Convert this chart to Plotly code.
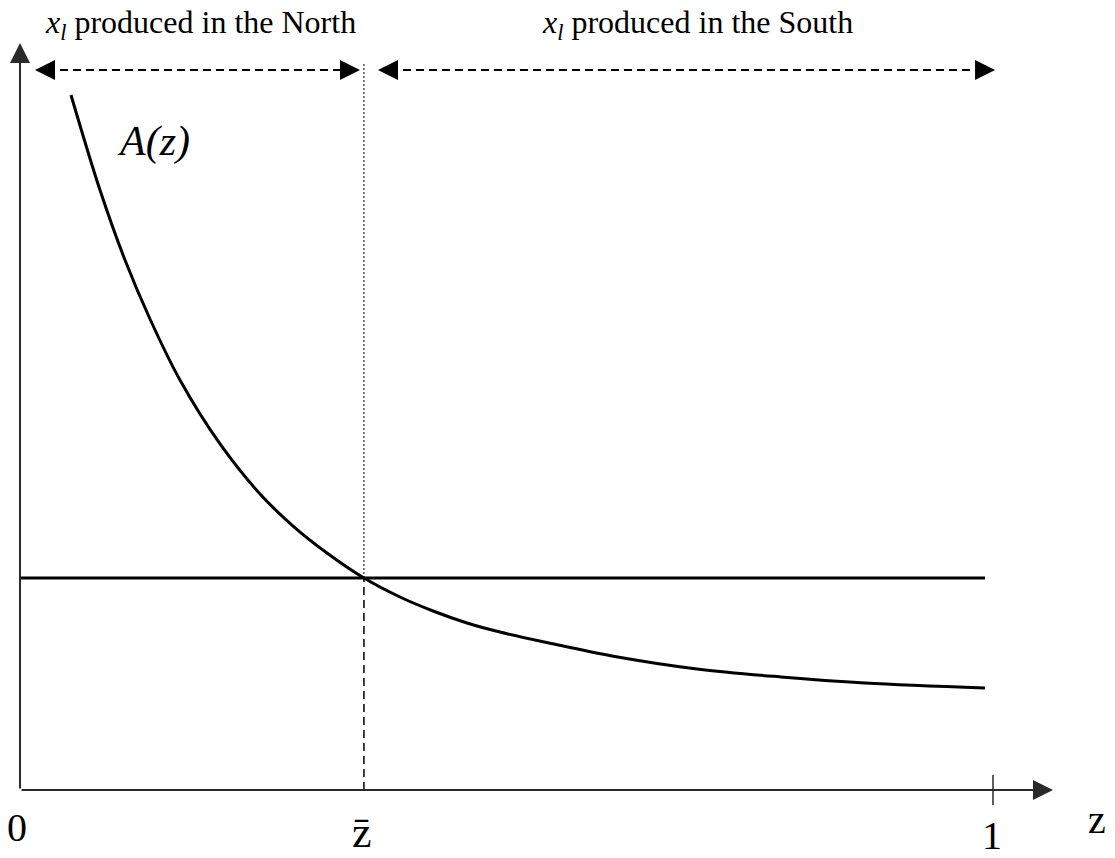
import plotly.graph_objects as go

# ---- data ----
z_curve = [0.0524, 0.0822, 0.1079, 0.1336, 0.1644, 0.2056, 0.2467, 0.2806, 0.3155, 0.3535,
           0.3905, 0.4245, 0.4594, 0.4933, 0.5437, 0.6084, 0.6958, 0.7821, 0.8684, 0.9918]
a_curve = [0.9521, 0.8219, 0.7260, 0.6452, 0.5616, 0.4740, 0.4055, 0.3616, 0.3247, 0.2904,
           0.2644, 0.2452, 0.2288, 0.2164, 0.2014, 0.1836, 0.1658, 0.1548, 0.1466, 0.1397]
z_bar = 0.3535
a_level = 0.2904
z_end = 0.9918
x_tick_labels = ["0", "z\u0304", "1"]
x_tick_values = [0.0, z_bar, 1.0]
axis_label = "z"
curve_label = "<i>A(z)</i>"
region_labels = ["<i>x</i><sub><i>l</i></sub> produced in the North",
                 "<i>x</i><sub><i>l</i></sub> produced in the South"]

BLACK = "#000000"
AXIS = "#2a2a2a"
FONT = "Liberation Serif, Times New Roman, serif"
PX_X = 1 / 973.0   # one pixel in z units
PX_Y = 1 / 730.0   # one pixel in A units

fig = go.Figure()


def line(xs, ys, width, dash="solid", color=BLACK, shape="linear"):
    fig.add_trace(go.Scatter(x=xs, y=ys, mode="lines", hoverinfo="skip",
                             line=dict(color=color, width=width, dash=dash, shape=shape)))


annotations = []


def arrow(x, y, ax, ay, color=BLACK, width=2, size=2.0):
    annotations.append(dict(x=x, y=y, ax=ax, ay=ay, xref="x", yref="y",
                            axref="x", ayref="y", text="", showarrow=True,
                            arrowhead=2, arrowsize=size, arrowwidth=width,
                            arrowcolor=color, standoff=0, startstandoff=0))


# axes with arrowheads
y_top = 1.0233
x_right = 1.0617
arrow(0, y_top, 0, 0, color=AXIS, width=2, size=2.0)
arrow(x_right, 0, 0, 0, color=AXIS, width=2, size=2.0)
# tick at 1
line([1.0, 1.0], [-0.0205, 0.0205], 1.5, color=AXIS)

# vertical line at z_bar
line([z_bar, z_bar], [a_level, 0.9863 + 8 * PX_Y], 1, dash="2px,2px", color=BLACK)
line([z_bar, z_bar], [0, a_level], 1.5, dash="8px,5px")

# horizontal level
line([0, z_end], [a_level, a_level], 3)

# curve A(z)
line(z_curve, a_curve, 3, shape="spline")

# region arrows (dashed, double-headed)
y_arr = 0.9863
north = (0.0154, 0.3494)
south = (0.3679, 1.0021)
for lo, hi in (north, south):
    line([lo + 12 * PX_X, hi - 12 * PX_X], [y_arr, y_arr], 2, dash="8px,5px")
    arrow(lo, y_arr, lo + 14 * PX_X, y_arr, width=2, size=2.0)
    arrow(hi, y_arr, hi - 14 * PX_X, y_arr, width=2, size=2.0)

# region labels
annotations.append(dict(x=0.186, y=1.048, text=region_labels[0], showarrow=False,
                        font=dict(family=FONT, size=32, color=BLACK)))
annotations.append(dict(x=0.6958, y=1.048, text=region_labels[1], showarrow=False,
                        font=dict(family=FONT, size=32, color=BLACK)))
# A(z)
annotations.append(dict(x=0.1377, y=0.889, text=curve_label, showarrow=False,
                        font=dict(family=FONT, size=42, color=BLACK)))
# tick labels
tick_y = [-0.052, -0.058, -0.0625]
tick_dx = [-0.0031, -0.002, -0.001]
tick_size = [40, 44, 40]
for xv, lab, ty, dx, sz in zip(x_tick_values, x_tick_labels, tick_y, tick_dx, tick_size):
    annotations.append(dict(x=xv + dx, y=ty, text=lab, showarrow=False,
                            font=dict(family=FONT, size=sz, color=BLACK)))
annotations.append(dict(x=1.1069, y=-0.041, text=axis_label, showarrow=False,
                        font=dict(family=FONT, size=40, color=BLACK)))

fig.update_layout(
    width=1115, height=858,
    margin=dict(l=0, r=0, t=0, b=0),
    paper_bgcolor="white", plot_bgcolor="white",
    showlegend=False,
    hovermode=False,
    annotations=annotations,
    xaxis=dict(range=[-20 / 973, 1095 / 973], visible=False, fixedrange=True),
    yaxis=dict(range=[-68 / 730, 790 / 730], visible=False, fixedrange=True),
)

# remove the browser's default 8px body margin so the figure fills the window
fig.write_html("out.html",
               config={"displayModeBar": False, "staticPlot": True},
               post_script="document.body.style.margin='0';document.body.style.overflow='hidden';")
